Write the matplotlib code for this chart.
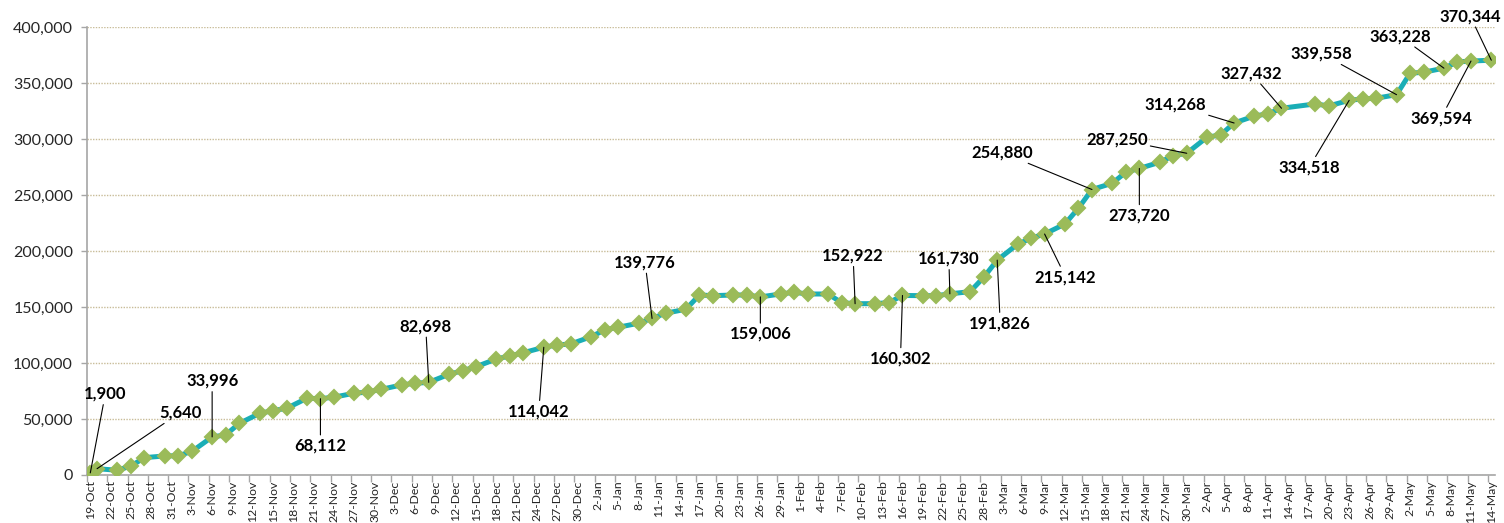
import numpy as np
import pandas as pd
import matplotlib.pyplot as plt
import matplotlib.dates as mdates

# data
dates = ["2020-10-19", "2020-10-20", "2020-10-23", "2020-10-25", "2020-10-27", "2020-10-30",
         "2020-11-01", "2020-11-03", "2020-11-06", "2020-11-08", "2020-11-10", "2020-11-13",
         "2020-11-15", "2020-11-17", "2020-11-20", "2020-11-22", "2020-11-24", "2020-11-27",
         "2020-11-29", "2020-12-01", "2020-12-04", "2020-12-06", "2020-12-08", "2020-12-11",
         "2020-12-13", "2020-12-15", "2020-12-18", "2020-12-20", "2020-12-22", "2020-12-25",
         "2020-12-27", "2020-12-29", "2021-01-01", "2021-01-03", "2021-01-05", "2021-01-08",
         "2021-01-10", "2021-01-12", "2021-01-15", "2021-01-17", "2021-01-19", "2021-01-22",
         "2021-01-24", "2021-01-26", "2021-01-29", "2021-01-31", "2021-02-02", "2021-02-05",
         "2021-02-07", "2021-02-09", "2021-02-12", "2021-02-14", "2021-02-16", "2021-02-19",
         "2021-02-21", "2021-02-23", "2021-02-26", "2021-02-28", "2021-03-02", "2021-03-05",
         "2021-03-07", "2021-03-09", "2021-03-12", "2021-03-14", "2021-03-16", "2021-03-19",
         "2021-03-21", "2021-03-23", "2021-03-26", "2021-03-28", "2021-03-30", "2021-04-02",
         "2021-04-04", "2021-04-06", "2021-04-09", "2021-04-11", "2021-04-13", "2021-04-18",
         "2021-04-20", "2021-04-23", "2021-04-25", "2021-04-27", "2021-04-30", "2021-05-02",
         "2021-05-04", "2021-05-07", "2021-05-09", "2021-05-11", "2021-05-14"]
values = [1900, 5640, 4200, 8000, 15500, 17000,
          17200, 21000, 33996, 35800, 46000, 55000,
          57500, 59500, 68500, 68112, 69500, 73000,
          74000, 76500, 80400, 81900, 82698, 89900,
          93100, 96700, 103600, 106300, 109200, 114042,
          116100, 117000, 123500, 129500, 131900, 135500,
          139776, 144400, 148000, 160700, 160100, 160700,
          160700, 159006, 161600, 163100, 161600, 161600,
          153900, 152922, 153000, 153900, 160302, 160100,
          160100, 161730, 163700, 176500, 191826, 206000,
          211400, 215142, 224100, 238200, 254880, 260500,
          270300, 273720, 279200, 285100, 287250, 301600,
          303600, 314268, 320500, 322500, 327432, 331300,
          329500, 334518, 335800, 336400, 339558, 358700,
          359600, 363228, 368800, 369594, 370344]

# points that carry a data label
label_dates = ["2020-10-19", "2020-10-20", "2020-11-06", "2020-11-22", "2020-12-08", "2020-12-25",
               "2021-01-10", "2021-01-26", "2021-02-09", "2021-02-16", "2021-02-23", "2021-03-02",
               "2021-03-09", "2021-03-16", "2021-03-23", "2021-03-30", "2021-04-06", "2021-04-13",
               "2021-04-23", "2021-04-30", "2021-05-07", "2021-05-11", "2021-05-14"]
# label offsets in pixels (dx, dy)
label_offsets = [(15, 79), (83, 56), (0, 56), (0, -47), (-3, 56), (-5, -64),
                 (-7, 56), (0, -37), (-2, 48), (-2, -63), (-1, 35), (3, -63),
                 (21, -43), (-90, 37), (0, -47), (-70, 14), (-59, 18), (-30, 35),
                 (-40, -67), (-75, 41), (-44, 32), (-30, -57), (-21, 44)]

plt.rcParams['font.family'] = ['Lato', 'DejaVu Sans']

x = mdates.date2num(pd.to_datetime(dates))
start = mdates.date2num(pd.Timestamp("2020-10-19"))
end = mdates.date2num(pd.Timestamp("2021-05-14"))

fig = plt.figure(figsize=(15.04, 5.23), dpi=100)
ax = fig.add_axes([0.0578, 0.0918, 0.9360, 0.8566])

ax.plot(x, values, color='#1aaeb6', lw=3.6, zorder=2)
ax.plot(x, values, ls='none', marker='D', ms=7.6, mfc='#9bbb59', mec='#9bbb59', mew=1.5, zorder=3)

ax.set_xlim(start - 0.5, end + 0.5)
ax.set_ylim(0, 400000)

# y axis
ax.set_yticks(np.arange(0, 400001, 50000))
ax.yaxis.set_major_formatter(plt.FuncFormatter(lambda v, p: f"{v:,.0f}"))
ax.tick_params(axis='y', length=4, width=1, color='#a6a6a6', pad=6, labelsize=11.5, labelcolor='#262626')
ax.grid(axis='y', color='#c8bc98', ls=(0, (1, 1)), lw=1)
ax.set_axisbelow(True)

# x axis: tick marks on day boundaries, labels in day centres
tick_days = np.arange(start, end + 1, 3)
ax.set_xticks(tick_days - 0.5)
ax.set_xticklabels([])
ax.set_xticks(tick_days, minor=True)
ax.set_xticklabels([f"{d.day}-{d.strftime('%b')}" for d in mdates.num2date(tick_days)],
                   minor=True, rotation=90)
ax.tick_params(axis='x', which='major', length=5, width=1, color='#a6a6a6')
ax.tick_params(axis='x', which='minor', length=0, pad=4, labelsize=8.8, labelcolor='#262626')

for s in ['top', 'right']:
    ax.spines[s].set_visible(False)
for s in ['left', 'bottom']:
    ax.spines[s].set_color('#a6a6a6')
    ax.spines[s].set_linewidth(1.2)

lookup = dict(zip(dates, values))
for d, (dx, dy) in zip(label_dates, label_offsets):
    v = lookup[d]
    ax.annotate(f"{v:,}", xy=(mdates.date2num(pd.Timestamp(d)), v), xytext=(dx, dy),
                textcoords='offset pixels', ha='center', va='center',
                fontsize=12, fontweight='bold', color='black',
                arrowprops=dict(arrowstyle='-', color='black', lw=0.8, shrinkA=0, shrinkB=0),
                zorder=4)

fig.savefig('out.png', dpi=100)
